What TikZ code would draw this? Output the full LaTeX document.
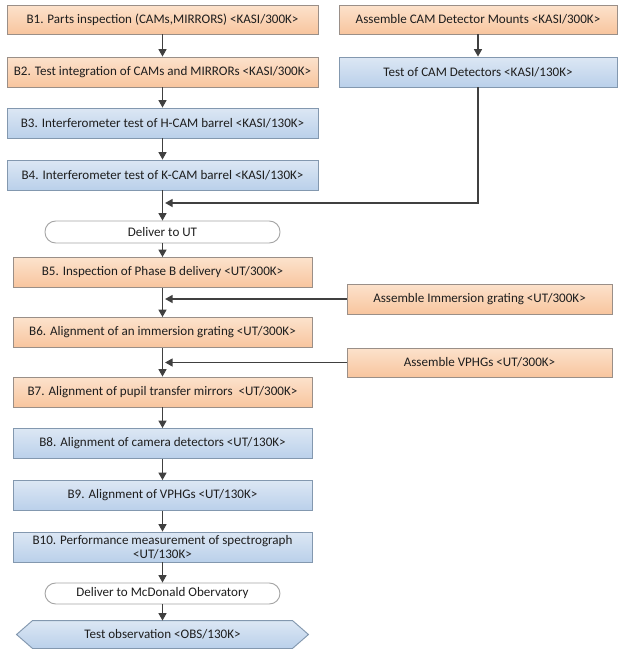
\documentclass[tikz,border=0pt]{standalone}
\usepackage{fontspec}
\setmainfont{Carlito}
\usetikzlibrary{arrows.meta}
\definecolor{orT}{HTML}{FCE2CC}
\definecolor{orB}{HTML}{F8C59E}
\definecolor{orD}{HTML}{9A8F88}
\definecolor{blT}{HTML}{DCE7F4}
\definecolor{blB}{HTML}{BAD0EA}
\definecolor{blD}{HTML}{8398AF}
\definecolor{ln}{HTML}{404040}
\definecolor{tx}{HTML}{1E1E1E}
\tikzset{
  box/.style={rectangle, draw, line width=0.7pt, inner sep=1pt, align=center,
     font=\fontsize{9.8pt}{10.8pt}\selectfont, text=tx},
  orbox/.style={box, draw=orD, top color=orT, bottom color=orB},
  blbox/.style={box, draw=blD, top color=blT, bottom color=blB},
  pill/.style={box, draw=gray!70, fill=white, rounded corners=8pt},
  wdt/.style={minimum width=#1*0.75pt},
  hgt/.style={minimum height=#1*0.75pt},
  arr/.style={draw=ln, line width=0.8pt, -{Triangle[length=5.5pt,width=6pt]}},
  lin/.style={draw=ln, line width=0.8pt}
}
\begin{document}
\begin{tikzpicture}[x=0.75pt,y=-0.75pt]
\useasboundingbox[fill=white] (0,0) rectangle (624,654);
% left column, KASI
\node[orbox, wdt=311, hgt=29] (b1) at (162.5,19.5) {B1. Parts inspection (CAMs,MIRRORS) <KASI/300K>};
\node[orbox, wdt=311, hgt=30] (b2) at (162.5,72) {B2. Test integration of CAMs and MIRRORs <KASI/300K>};
\node[blbox, wdt=311, hgt=30] (b3) at (162.5,123) {B3. Interferometer test of H-CAM barrel <KASI/130K>};
\node[blbox, wdt=311, hgt=30] (b4) at (162.5,175) {B4. Interferometer test of K-CAM barrel <KASI/130K>};
% right column
\node[orbox, wdt=278, hgt=29] (a1) at (478,19.5) {Assemble CAM Detector Mounts <KASI/300K>};
\node[blbox, wdt=278, hgt=30] (t1) at (478,72) {Test of CAM Detectors <KASI/130K>};
% deliver
\node[pill, wdt=235, hgt=22] (d1) at (162.5,232) {Deliver to UT};
% UT
\node[orbox, wdt=299, hgt=30] (b5) at (162.5,272.5) {B5. Inspection of Phase B delivery <UT/300K>};
\node[orbox, wdt=299, hgt=30] (b6) at (162.5,332.5) {B6. Alignment of an immersion grating <UT/300K>};
\node[orbox, wdt=299, hgt=30] (b7) at (162.5,392) {B7. Alignment of pupil transfer mirrors~~<UT/300K>};
\node[blbox, wdt=299, hgt=30] (b8) at (162.5,443.5) {B8. Alignment of camera detectors <UT/130K>};
\node[blbox, wdt=299, hgt=30] (b9) at (162.5,495.5) {B9. Alignment of VPHGs <UT/130K>};
\node[blbox, wdt=299, hgt=30] (b10) at (162.5,547) {B10. Performance measurement of spectrograph\\<UT/130K>};
\node[pill, wdt=235, hgt=21] (d2) at (162.5,593.5) {Deliver to McDonald Obervatory};
\node[orbox, wdt=265, hgt=30] (ai) at (479.5,299) {Assemble Immersion grating <UT/300K>};
\node[orbox, wdt=265, hgt=29] (av) at (479.5,362.5) {Assemble VPHGs <UT/300K>};
% hexagon
\node[box, draw=none, wdt=291, hgt=27] (obs) at (162.5,634.5) {};
\path[draw=blD, line width=0.7pt, top color=blT, bottom color=blB]
  (obs.west) -- ([xshift=12pt]obs.north west) -- ([xshift=-12pt]obs.north east)
  -- (obs.east) -- ([xshift=-12pt]obs.south east) -- ([xshift=12pt]obs.south west) -- cycle;
\node[box, draw=none] at (obs.center) {Test observation <OBS/130K>};
% junctions
\coordinate (j1) at (162.5,203);
\coordinate (j2) at (162.5,299);
\coordinate (j3) at (162.5,362.5);
% connectors
\draw[arr] (b1) -- (b2);
\draw[arr] (b2) -- (b3);
\draw[arr] (b3) -- (b4);
\draw[arr] (b4) -- (d1);
\draw[arr] (a1) -- (t1);
\draw[arr] (t1.south) -- (t1.south |- j1) -- ([xshift=2pt]j1);
\draw[arr] (d1) -- (b5);
\draw[arr] (b5) -- (b6);
\draw[arr] (ai.west) -- ([xshift=2pt]j2);
\draw[arr] (b6) -- (b7);
\draw[arr] (av.west) -- ([xshift=2pt]j3);
\draw[arr] (b7) -- (b8);
\draw[arr] (b8) -- (b9);
\draw[arr] (b9) -- (b10);
\draw[arr] (b10) -- (d2);
\draw[arr] (d2) -- (obs);
\end{tikzpicture}
\end{document}
